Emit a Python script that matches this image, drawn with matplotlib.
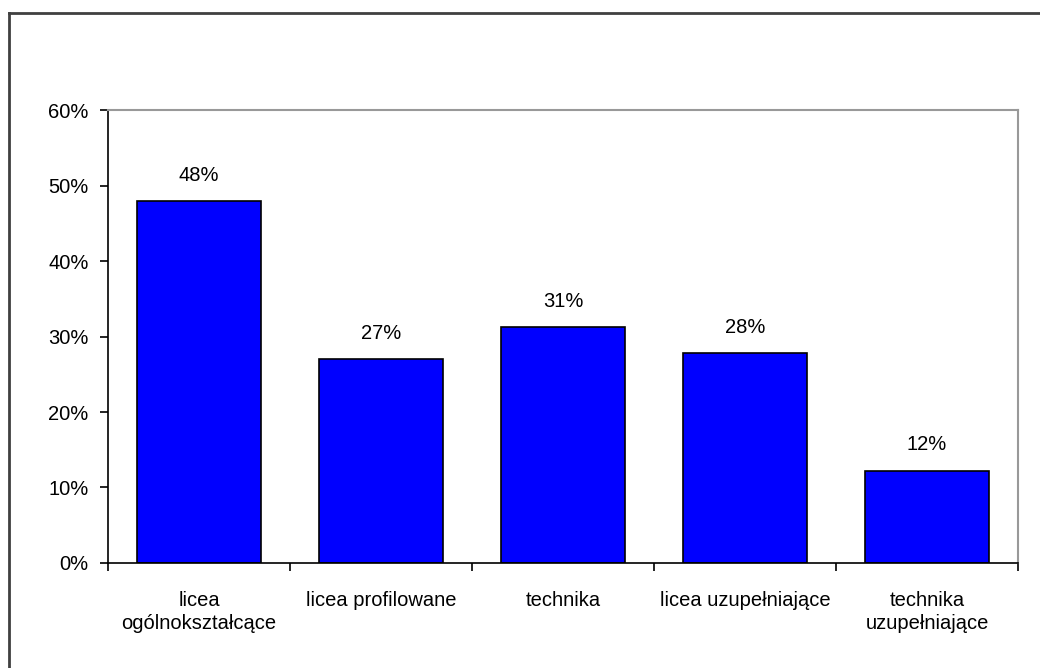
import matplotlib
matplotlib.use("Agg")
import matplotlib.pyplot as plt
from matplotlib.lines import Line2D
from matplotlib.ticker import FixedLocator

plt.rcParams['font.family'] = ['Liberation Sans', 'DejaVu Sans']

# Data
categories = ["licea\nogólnokształcące", "licea profilowane", "technika",
              "licea uzupełniające", "technika\nuzupełniające"]
shares = [47.9, 27.0, 31.2, 27.8, 12.2]
yticks = [0, 10, 20, 30, 40, 50, 60]

fs = 14.5

fig = plt.figure(figsize=(10.4, 6.68), dpi=100)
ax = fig.add_axes([0.1038, 0.1572, 0.8750, 0.6781])

x = range(len(categories))
bars = ax.bar(x, shares, width=0.68, color="#0000FF", edgecolor="black", linewidth=1.2)

for b, v in zip(bars, shares):
    ax.text(b.get_x() + b.get_width() / 2, v + 2.2, f"{v:.0f}%",
            ha="center", va="bottom", fontsize=fs)

ax.set_xlim(-0.5, len(categories) - 0.5)
ax.set_ylim(0, 60)
ax.set_yticks(yticks)
ax.set_yticklabels([f"{t}%" for t in yticks], fontsize=fs)

# category labels centred, ticks at category boundaries
ax.set_xticks(list(x))
ax.set_xticklabels(categories, fontsize=fs, linespacing=1.25)
ax.tick_params(axis="x", which="major", length=0, pad=20)
ax.xaxis.set_minor_locator(FixedLocator([i - 0.5 for i in range(len(categories) + 1)]))
ax.tick_params(axis="x", which="minor", length=6, width=1.2, direction="out")
ax.tick_params(axis="y", length=6, width=1.2, direction="out", pad=8)

for side in ["left", "bottom"]:
    ax.spines[side].set_color("black")
    ax.spines[side].set_linewidth(1.2)
for side in ["top", "right"]:
    ax.spines[side].set_color("#999999")
    ax.spines[side].set_linewidth(1.5)

# outer chart frame (only top and left edges show)
fig.add_artist(Line2D([9 / 1040, 1.0], [1 - 13 / 668, 1 - 13 / 668],
                      transform=fig.transFigure, color="#404040", linewidth=2))
fig.add_artist(Line2D([9 / 1040, 9 / 1040], [0.0, 1 - 13 / 668],
                      transform=fig.transFigure, color="#404040", linewidth=2))

fig.savefig("out.png", dpi=100)
